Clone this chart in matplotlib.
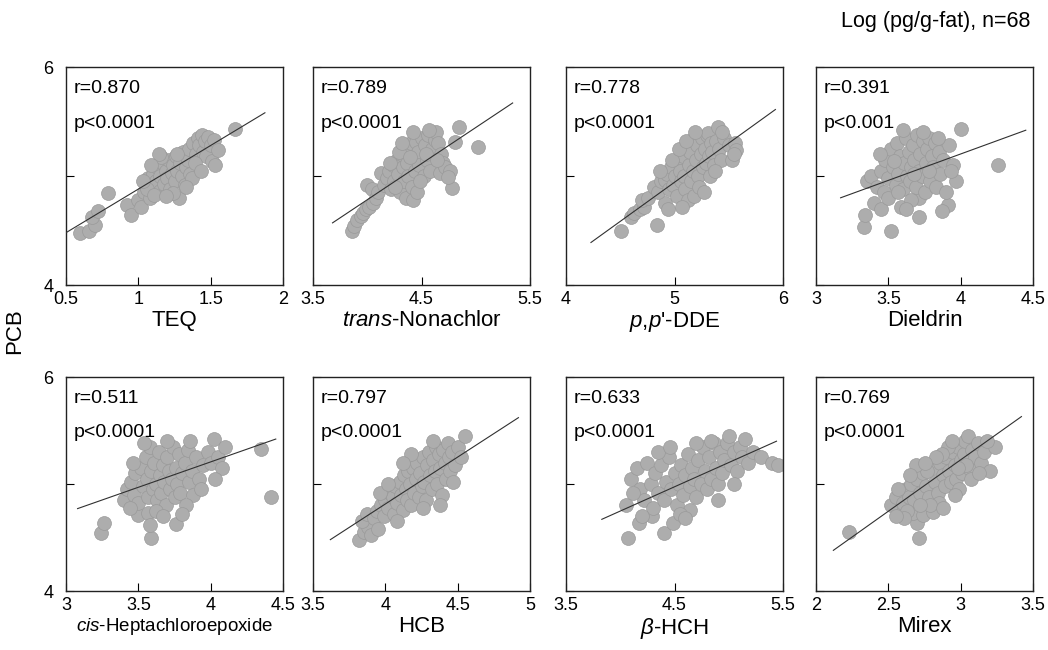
import matplotlib
matplotlib.use("Agg")
import matplotlib.pyplot as plt

plt.rcParams["font.family"] = ["Liberation Sans", "DejaVu Sans"]
plt.rcParams["mathtext.fontset"] = "custom"
plt.rcParams["mathtext.rm"] = "Liberation Sans"
plt.rcParams["mathtext.it"] = "Liberation Sans:italic"

# ---- data (log pg/g-fat) ----
teq_x = [0.60, 0.66, 0.70, 0.68, 0.72, 0.79, 0.92, 0.95, 1.00, 1.02, 1.04, 1.05, 1.07, 1.08,
         1.10, 1.10, 1.12, 1.13, 1.15, 1.15, 1.17, 1.18, 1.19, 1.20, 1.21, 1.22, 1.23, 1.24,
         1.25, 1.26, 1.27, 1.28, 1.29, 1.30, 1.31, 1.32, 1.33, 1.34, 1.35, 1.36, 1.37, 1.16,
         1.06, 1.11, 1.24, 1.14, 1.38, 1.40, 1.41, 1.42, 1.44, 1.45, 1.46, 1.47, 1.48, 1.50,
         1.51, 1.52, 1.53, 1.55, 1.39, 1.67, 1.03, 1.09, 1.19, 1.27, 1.33, 1.43]
teq_y = [4.48, 4.50, 4.55, 4.62, 4.68, 4.84, 4.73, 4.64, 4.78, 4.72, 4.85, 4.92, 4.98, 4.80,
         4.90, 5.02, 4.95, 5.08, 4.86, 5.00, 5.12, 4.93, 5.05, 4.98, 5.15, 4.88, 5.03, 5.10,
         4.95, 5.18, 5.05, 4.80, 5.12, 5.00, 5.22, 4.92, 5.08, 5.15, 5.25, 5.02, 4.98, 5.17,
         4.88, 4.83, 4.84, 5.20, 5.30, 5.20, 5.35, 5.28, 5.38, 5.22, 5.32, 5.18, 5.36, 5.28,
         5.14, 5.33, 5.10, 5.24, 5.12, 5.43, 4.95, 5.10, 4.82, 5.20, 4.90, 5.05]

tn_x = [3.86, 3.88, 3.91, 3.94, 3.96, 3.99, 4.02, 4.05, 4.00, 4.04, 4.08, 4.10, 4.13, 4.15,
        4.18, 4.20, 4.22, 4.24, 4.25, 4.27, 4.28, 4.30, 4.31, 4.33, 4.34, 4.35, 4.36, 4.37,
        4.38, 4.40, 4.41, 4.42, 4.43, 4.44, 4.45, 4.46, 4.47, 4.48, 4.50, 4.52, 4.53, 4.55,
        4.56, 4.58, 4.60, 4.62, 4.63, 4.65, 4.67, 4.68, 4.70, 4.72, 4.76, 4.78, 4.81, 4.85,
        5.02, 4.21, 4.26, 4.29, 4.32, 4.39, 4.42, 4.49, 4.54, 4.57, 4.64, 4.74]
tn_y = [4.50, 4.54, 4.60, 4.63, 4.66, 4.70, 4.72, 4.75, 4.92, 4.88, 4.80, 4.85, 5.03, 4.92,
        4.98, 5.05, 4.88, 5.10, 4.95, 5.15, 5.02, 4.85, 5.20, 5.08, 4.95, 5.25, 4.80, 5.12,
        5.00, 5.30, 4.90, 4.78, 5.18, 5.05, 5.31, 4.85, 5.22, 5.10, 5.35, 5.00, 5.28, 5.15,
        5.38, 5.05, 5.25, 5.33, 5.40, 5.30, 5.03, 5.20, 5.12, 5.08, 5.05, 4.89, 5.31, 5.45,
        5.27, 5.12, 4.90, 5.22, 5.30, 5.17, 5.40, 4.95, 5.20, 5.42, 5.15, 4.99]

dde_x = [4.51, 4.84, 4.60, 4.63, 4.68, 4.72, 4.70, 4.76, 4.81, 4.91, 4.85, 4.88, 4.91, 4.93,
         4.95, 4.97, 4.99, 5.00, 5.02, 5.03, 5.05, 5.06, 5.08, 5.09, 5.10, 5.12, 5.13, 5.14,
         5.15, 5.16, 5.17, 5.18, 5.20, 5.21, 5.22, 5.23, 5.24, 5.25, 5.26, 5.27, 5.28, 5.29,
         5.30, 5.31, 5.32, 5.33, 5.34, 5.35, 5.36, 5.38, 5.40, 5.41, 5.43, 5.46, 5.50, 5.53,
         5.56, 5.57, 5.55, 4.98, 5.04, 5.11, 5.19, 4.94, 5.07, 5.37, 5.44, 4.87]
dde_y = [4.50, 4.55, 4.62, 4.66, 4.70, 4.72, 4.78, 4.80, 4.90, 4.75, 4.85, 4.95, 4.96, 5.02,
         4.88, 5.08, 4.92, 5.00, 4.82, 5.13, 5.05, 4.95, 5.18, 5.00, 4.88, 4.78, 5.10, 5.22,
         4.95, 5.33, 5.05, 4.82, 5.15, 5.28, 5.00, 4.90, 5.20, 5.35, 5.08, 4.85, 5.25, 5.12,
         5.38, 5.39, 5.18, 5.00, 5.30, 5.22, 5.10, 5.32, 5.45, 5.25, 5.15, 5.35, 5.28, 5.15,
         5.30, 5.24, 5.20, 5.15, 5.25, 5.32, 5.40, 4.70, 4.72, 5.05, 5.40, 5.05]

die_x = [3.33, 3.34, 3.40, 3.52, 3.59, 3.71, 3.91, 3.71, 4.26, 4.00, 3.35, 3.38, 3.42, 3.45,
         3.47, 3.48, 3.50, 3.52, 3.53, 3.55, 3.56, 3.57, 3.58, 3.60, 3.61, 3.62, 3.63, 3.64,
         3.65, 3.66, 3.67, 3.68, 3.69, 3.70, 3.71, 3.72, 3.73, 3.74, 3.75, 3.76, 3.77, 3.78,
         3.79, 3.80, 3.81, 3.82, 3.83, 3.85, 3.86, 3.88, 3.90, 3.92, 3.95, 3.97, 3.45, 3.50,
         3.60, 3.66, 3.87, 3.78, 3.54, 3.62, 3.74, 3.84, 3.57, 3.68, 3.93, 3.44]
die_y = [4.53, 4.64, 4.75, 4.50, 4.72, 4.62, 4.73, 4.80, 5.10, 5.43, 4.95, 5.00, 4.90, 5.05,
         4.85, 5.15, 4.98, 5.25, 5.08, 4.92, 5.30, 5.02, 5.18, 4.88, 5.12, 5.35, 5.00, 5.22,
         4.95, 5.08, 5.28, 5.15, 4.90, 5.38, 5.05, 5.20, 5.00, 5.32, 4.85, 5.12, 5.25, 5.35,
         4.95, 5.18, 5.08, 5.30, 4.90, 5.22, 5.02, 5.15, 4.85, 5.28, 5.10, 4.95, 4.70, 4.80,
         5.42, 4.78, 4.68, 5.05, 5.14, 4.70, 5.40, 5.35, 4.85, 5.02, 5.05, 5.20]

che_x = [3.24, 3.26, 3.59, 3.76, 3.50, 3.57, 4.42, 4.35, 3.40, 3.42, 3.45, 3.47, 3.48, 3.50,
         3.52, 3.53, 3.55, 3.56, 3.57, 3.58, 3.59, 3.60, 3.61, 3.62, 3.63, 3.64, 3.65, 3.66,
         3.67, 3.68, 3.69, 3.70, 3.71, 3.72, 3.73, 3.74, 3.75, 3.76, 3.77, 3.78, 3.79, 3.80,
         3.82, 3.84, 3.85, 3.87, 3.88, 3.90, 3.92, 3.95, 3.98, 4.00, 4.02, 4.05, 4.08, 4.10,
         3.44, 3.54, 3.62, 3.70, 3.83, 3.93, 3.67, 3.46, 3.86, 3.58, 3.80, 4.03]
che_y = [4.54, 4.64, 4.50, 4.63, 4.71, 4.73, 4.88, 5.33, 4.85, 4.95, 5.02, 4.90, 5.10, 4.82,
         5.15, 4.98, 5.25, 5.05, 4.88, 5.35, 5.12, 4.95, 5.20, 5.00, 4.85, 5.30, 5.08, 4.92,
         5.18, 5.02, 4.80, 5.25, 5.12, 4.95, 5.05, 5.35, 4.88, 5.15, 5.00, 5.28, 4.92, 5.10,
         5.20, 5.32, 5.02, 5.12, 4.90, 5.25, 5.05, 5.18, 5.30, 5.20, 5.42, 5.25, 5.15, 5.35,
         4.78, 5.38, 4.75, 5.40, 4.80, 4.95, 4.70, 5.20, 5.40, 4.62, 4.72, 5.05]

hcb_x = [3.82, 3.85, 3.88, 3.90, 3.84, 3.87, 3.92, 3.95, 3.94, 3.97, 3.99, 4.00, 4.02, 4.03,
         4.05, 4.06, 4.07, 4.08, 4.10, 4.11, 4.12, 4.13, 4.14, 4.15, 4.16, 4.17, 4.18, 4.19,
         4.20, 4.21, 4.22, 4.23, 4.24, 4.25, 4.26, 4.27, 4.28, 4.29, 4.30, 4.31, 4.32, 4.33,
         4.34, 4.35, 4.36, 4.37, 4.38, 4.39, 4.40, 4.41, 4.42, 4.43, 4.44, 4.45, 4.46, 4.48,
         4.50, 4.52, 4.55, 4.08, 4.18, 4.26, 4.33, 4.47, 3.96, 4.12, 4.38, 4.02]
hcb_y = [4.48, 4.55, 4.60, 4.52, 4.65, 4.72, 4.68, 4.58, 4.75, 4.80, 4.70, 4.85, 4.78, 4.92,
         4.88, 4.72, 4.98, 4.82, 5.02, 4.90, 4.76, 5.08, 4.95, 4.85, 5.12, 5.00, 4.80, 5.15,
         4.92, 5.05, 5.20, 4.88, 5.10, 4.98, 5.25, 5.02, 4.85, 5.18, 5.30, 5.08, 4.95, 5.22,
         5.12, 5.35, 5.00, 5.28, 5.15, 4.90, 5.32, 5.20, 5.05, 5.38, 5.25, 5.12, 5.30, 5.18,
         5.35, 5.25, 5.45, 4.65, 5.28, 4.78, 5.40, 5.02, 4.92, 5.20, 4.80, 5.00]

bhch_x = [4.07, 4.40, 4.49, 4.17, 4.29, 4.64, 4.05, 4.10, 4.15, 4.18, 4.22, 4.25, 4.28, 4.30,
          4.32, 4.35, 4.38, 4.40, 4.42, 4.45, 4.47, 4.50, 4.52, 4.54, 4.56, 4.58, 4.60, 4.62,
          4.64, 4.66, 4.68, 4.70, 4.72, 4.74, 4.76, 4.78, 4.80, 4.82, 4.84, 4.86, 4.88, 4.90,
          4.92, 4.94, 4.96, 4.98, 5.00, 5.02, 5.05, 5.08, 5.10, 5.12, 5.15, 5.18, 5.22, 5.30,
          5.40, 5.45, 4.20, 4.35, 4.55, 4.70, 4.90, 5.05, 4.46, 4.60, 4.12, 4.84]
bhch_y = [4.50, 4.54, 4.64, 4.64, 4.70, 4.76, 4.80, 5.05, 5.15, 4.95, 4.85, 5.20, 5.00, 4.78,
          5.10, 4.92, 5.18, 4.85, 5.02, 5.25, 4.95, 5.10, 4.80, 5.00, 5.18, 4.90, 5.08, 5.28,
          4.98, 5.15, 5.05, 4.88, 5.22, 5.00, 5.35, 5.12, 4.95, 5.25, 5.05, 5.38, 5.15, 5.00,
          5.30, 5.10, 5.22, 5.38, 5.45, 5.18, 5.30, 5.12, 5.35, 5.25, 5.42, 5.20, 5.30, 5.25,
          5.20, 5.18, 4.70, 5.30, 4.72, 5.38, 4.85, 5.00, 5.35, 4.68, 4.92, 5.40]

mirex_x = [2.23, 2.71, 2.70, 2.67, 2.74, 2.81, 2.58, 2.52, 2.55, 2.60, 2.62, 2.64, 2.66, 2.68,
           2.70, 2.72, 2.74, 2.76, 2.78, 2.80, 2.82, 2.84, 2.86, 2.88, 2.89, 2.90, 2.92, 2.93,
           2.95, 2.96, 2.97, 2.98, 3.00, 3.01, 3.02, 3.03, 3.05, 3.06, 3.08, 3.10, 3.12, 3.14,
           3.16, 3.20, 3.24, 2.63, 2.77, 2.85, 2.91, 2.99, 2.69, 2.57, 2.94, 3.07, 2.79, 2.87,
           2.65, 2.96, 2.83, 3.04, 2.61, 2.75, 3.13, 2.88, 2.98, 3.18, 2.72, 2.55]
mirex_y = [4.55, 4.50, 4.64, 4.73, 4.71, 4.74, 4.74, 4.80, 4.88, 4.82, 4.95, 4.88, 5.00, 4.85,
           5.05, 4.92, 5.10, 4.98, 4.88, 5.15, 5.02, 4.92, 5.20, 5.08, 4.98, 5.25, 5.12, 5.02,
           5.30, 5.18, 5.05, 5.35, 5.22, 5.10, 5.28, 5.40, 5.45, 5.15, 5.32, 5.25, 5.38, 5.20,
           5.30, 5.12, 5.35, 4.75, 5.12, 4.82, 5.35, 4.95, 5.18, 4.95, 5.40, 5.05, 4.80, 5.28,
           5.08, 4.90, 5.25, 5.18, 4.68, 5.20, 5.10, 4.78, 5.15, 5.40, 4.80, 4.70]

# regression lines (end points)
fit_x = [[0.50, 1.875], [3.68, 5.34], [4.23, 5.93], [3.17, 4.45],
         [3.08, 4.45], [3.62, 4.92], [3.83, 5.44], [2.12, 3.42]]
fit_y = [[4.48, 5.58], [4.57, 5.67], [4.39, 5.61], [4.80, 5.42],
         [4.77, 5.42], [4.48, 5.62], [4.67, 5.40], [4.38, 5.63]]

r_values = ["0.870", "0.789", "0.778", "0.391", "0.511", "0.797", "0.633", "0.769"]
p_values = ["0.0001", "0.0001", "0.0001", "0.001", "0.0001", "0.0001", "0.0001", "0.0001"]

x_names = ["TEQ", r"$\mathit{trans}$-Nonachlor", r"$\mathit{p}$,$\mathit{p}$'-DDE", "Dieldrin",
           r"$\mathit{cis}$-Heptachloroepoxide", "HCB", r"$\mathit{\beta}$-HCH", "Mirex"]
x_limits = [(0.5, 2), (3.5, 5.5), (4, 6), (3, 4.5), (3, 4.5), (3.5, 5), (3.5, 5.5), (2, 3.5)]
x_tick_values = [[0.5, 1, 1.5, 2], [3.5, 4.5, 5.5], [4, 5, 6], [3, 3.5, 4, 4.5],
                 [3, 3.5, 4, 4.5], [3.5, 4, 4.5, 5], [3.5, 4.5, 5.5], [2, 2.5, 3, 3.5]]
x_tick_labels = [["0.5", "1", "1.5", "2"], ["3.5", "4.5", "5.5"], ["4", "5", "6"],
                 ["3", "3.5", "4", "4.5"], ["3", "3.5", "4", "4.5"], ["3.5", "4", "4.5", "5"],
                 ["3.5", "4.5", "5.5"], ["2", "2.5", "3", "3.5"]]

xs = [teq_x, tn_x, dde_x, die_x, che_x, hcb_x, bhch_x, mirex_x]
ys = [teq_y, tn_y, dde_y, die_y, che_y, hcb_y, bhch_y, mirex_y]

W, H = 1048, 650
col_left = [66, 313, 566, 816]
col_width = 217
row_top = [67, 377]
row_height = [218, 214]

fig = plt.figure(figsize=(W / 100, H / 100), dpi=100)

for i in range(8):
    row, col = divmod(i, 4)
    ax = fig.add_axes([col_left[col] / W, (H - row_top[row] - row_height[row]) / H,
                       col_width / W, row_height[row] / H])
    ax.scatter(xs[i], ys[i], s=100, c="#adadad", edgecolors="#9a9a9a",
               linewidths=0.5, zorder=2)
    ax.plot(fit_x[i], fit_y[i], color="#303030", lw=0.8, zorder=3)

    ax.set_xlim(*x_limits[i])
    ax.set_ylim(4, 6)
    ax.set_xticks(x_tick_values[i])
    ax.set_xticklabels(x_tick_labels[i], fontsize=13)
    ax.set_yticks([4, 5, 6])
    if col == 0:
        ax.set_yticklabels(["4", "", "6"], fontsize=13)
    else:
        ax.set_yticklabels(["", "", ""])
    ax.tick_params(axis="x", direction="in", length=6, width=0.8, pad=4)
    ax.tick_params(axis="y", direction="in", length=6, width=0.8, pad=9)
    for sp in ax.spines.values():
        sp.set_linewidth(1.0)
        sp.set_color("#222222")

    ax.text(0.035, 0.94, "r=" + r_values[i], transform=ax.transAxes,
            fontsize=14, va="top", ha="left")
    ax.text(0.035, 0.78, "p<" + p_values[i], transform=ax.transAxes,
            fontsize=14, va="top", ha="left")
    ax.set_xlabel(x_names[i], fontsize=13.5 if i == 4 else 16, labelpad=2)

fig.text(15 / W, 1 - 331 / H, "PCB", rotation=90, fontsize=16, ha="center", va="center")
fig.text(1030 / W, 1 - 22 / H, "Log (pg/g-fat), n=68", fontsize=15.5,
         ha="right", va="center")

fig.savefig("out.png", dpi=100)
